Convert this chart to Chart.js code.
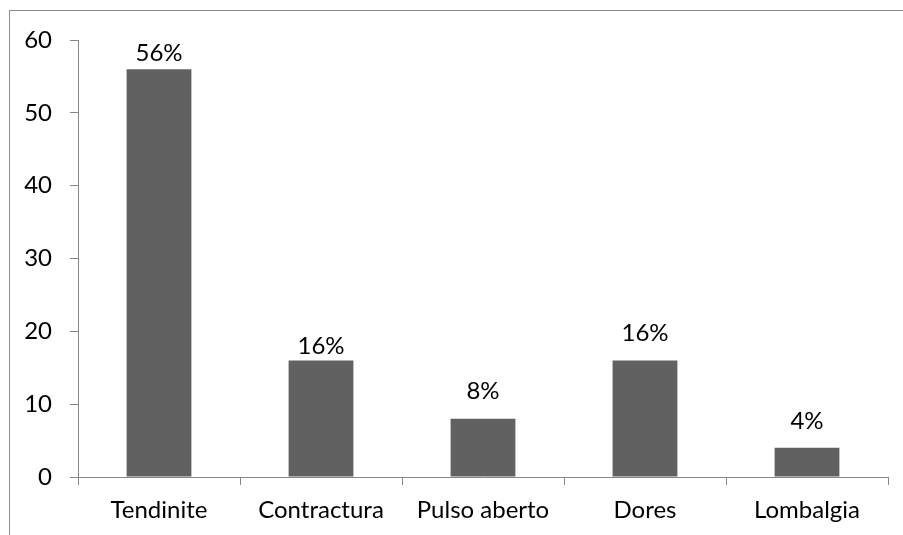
<!DOCTYPE html>
<html>
<head>
<meta charset="utf-8">
<script src="https://cdn.jsdelivr.net/npm/chart.js@4"></script>
<style>
  html, body { margin: 0; padding: 0; background: #fff; }
  #wrap { width: 903px; height: 535px; }
</style>
</head>
<body>
<div id="wrap"><canvas id="lesoesChart" width="903" height="535"></canvas></div>
<script>
// data
const categories = ["Tendinite", "Contractura", "Pulso aberto", "Dores", "Lombalgia"];
const values = [56, 16, 8, 16, 4];
const percentLabels = ["56%", "16%", "8%", "16%", "4%"];

const axisColor = "#868686";
const fontFamily = "Lato, 'Open Sans', sans-serif";
const fontSize = 24;

//! outer frame (only top/left edges visible in the picture)
const framePlugin = {
  id: "frame",
  beforeDraw(chart) {
    const ctx = chart.ctx;
    ctx.save();
    ctx.strokeStyle = "#8c8c8c";
    ctx.lineWidth = 1;
    ctx.strokeRect(9.5, 10.5, 1000, 1000);
    ctx.restore();
  },
};

//! percentage labels above bars
const labelOffsets = [16, 14, 27, 27, 27];
const barLabelsPlugin = {
  id: "barLabels",
  afterDatasetsDraw(chart) {
    const ctx = chart.ctx;
    const meta = chart.getDatasetMeta(0);
    ctx.save();
    ctx.fillStyle = "#000";
    ctx.font = fontSize + "px " + fontFamily;
    ctx.textAlign = "center";
    ctx.textBaseline = "middle";
    meta.data.forEach(function (bar, i) {
      ctx.fillText(percentLabels[i], bar.x, bar.y - labelOffsets[i]);
    });
    ctx.restore();
  },
};

const ctx = document.getElementById("lesoesChart").getContext("2d");
const lesoesChart = new Chart(ctx, {
  type: "bar",
  data: {
    labels: categories,
    datasets: [
      {
        data: values,
        backgroundColor: "#616161",
        borderWidth: 0,
        categoryPercentage: 1,
        barPercentage: 0.4,
      },
    ],
  },
  options: {
    responsive: false,
    animation: false,
    layout: { padding: { top: 40, right: 15, left: 0, bottom: 0 } },
    scales: {
      x: {
        grid: {
          display: true,
          offset: true,
          drawOnChartArea: false,
          drawTicks: true,
          tickLength: 8,
          color: axisColor,
        },
        border: { display: true, color: axisColor },
        ticks: {
          color: "#000",
          font: { family: fontFamily, size: fontSize },
          padding: 11,
          maxRotation: 0,
          autoSkip: false,
        },
        afterFit(scale) {
          scale.height = 58;
        },
      },
      y: {
        min: 0,
        max: 60,
        grid: {
          drawOnChartArea: false,
          tickLength: 8,
          color: axisColor,
        },
        border: { display: true, color: axisColor },
        ticks: {
          stepSize: 10,
          color: "#000",
          font: { family: fontFamily, size: fontSize },
          padding: 18,
        },
        afterFit(scale) {
          scale.width = 78;
        },
      },
    },
    plugins: { legend: { display: false }, tooltip: { enabled: false } },
  },
  plugins: [framePlugin, barLabelsPlugin],
});
</script>
</body>
</html>
